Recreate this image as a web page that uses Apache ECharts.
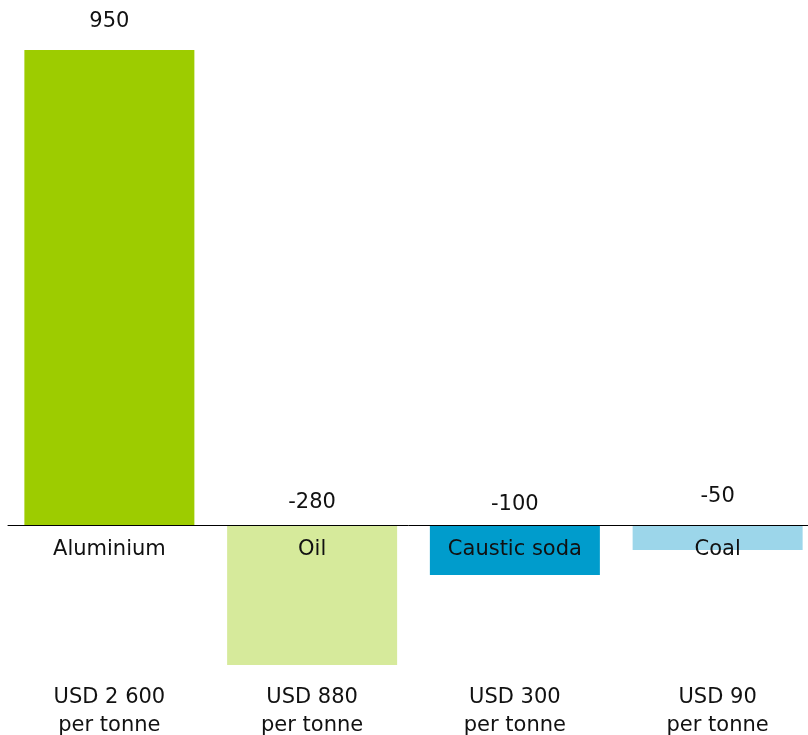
<!DOCTYPE html>
<html>
<head>
<meta charset="utf-8">
<script src="https://cdn.jsdelivr.net/npm/echarts@6/dist/echarts.min.js"></script>
<style>
  html, body { margin: 0; padding: 0; background: #fff; }
  #chart { width: 808px; height: 735px; }
</style>
</head>
<body>
<div id="chart"></div>
<script>
// ── data ────────────────────────────────────────────────
const CATEGORIES = ['Aluminium', 'Oil', 'Caustic soda', 'Coal']
const VALUES     = [950, -280, -100, -50]
const PRICES     = ['USD 2 600\nper tonne', 'USD 880\nper tonne', 'USD 300\nper tonne', 'USD 90\nper tonne']

// ── styles ──────────────────────────────────────────────
const COLORS    = ['#9dcc00', '#d6ea9b', '#009ccc', '#9cd6ea']
const LABEL_GAP = [18, 12, 10, 18]
const FONT = 'DejaVu Sans'
const SIZE = 21
const INK  = '#111'

const chart = echarts.init(document.getElementById('chart'))

// grid 0 holds the bars; grid 1 starts at the zero line and only carries the category names
chart.setOption({
  animation: false,
  backgroundColor: '#fff',
  grid: [
    { left: 8, top: 50, width: 811, height: 625, containLabel: false, outerBoundsMode: 'none' },
    { left: 8, top: 525, width: 811, height: 100, containLabel: false, outerBoundsMode: 'none' },
  ],
  xAxis: [
    {
      type: 'category',
      gridIndex: 0,
      data: PRICES,
      axisLine: { onZero: true, lineStyle: { color: '#000', width: 1 } },
      axisTick: { show: false },
      axisLabel: { color: INK, fontFamily: FONT, fontSize: SIZE, lineHeight: 28, margin: 9 },
      z: 10,
    },
    {
      type: 'category',
      gridIndex: 1,
      position: 'top',
      data: CATEGORIES,
      axisLine: { show: false, onZero: false },
      axisTick: { show: false },
      axisLabel: { inside: true, color: INK, fontFamily: FONT, fontSize: SIZE, margin: 14 },
      z: 10,
    },
  ],
  yAxis: [
    { type: 'value', gridIndex: 0, min: -300, max: 950, show: false, splitLine: { show: false } },
    { type: 'value', gridIndex: 1, show: false, splitLine: { show: false } },
  ],
  series: [{
    type: 'bar',
    xAxisIndex: 0,
    yAxisIndex: 0,
    barWidth: 170,
    data: VALUES.map((v, i) => ({
      value: v,
      itemStyle: { color: COLORS[i] },
      label: { distance: LABEL_GAP[i] },
    })),
    label: {
      show: true,
      position: 'top',
      color: INK,
      fontFamily: FONT,
      fontSize: SIZE,
    },
    z: 1,
  }],
})
</script>
</body>
</html>
